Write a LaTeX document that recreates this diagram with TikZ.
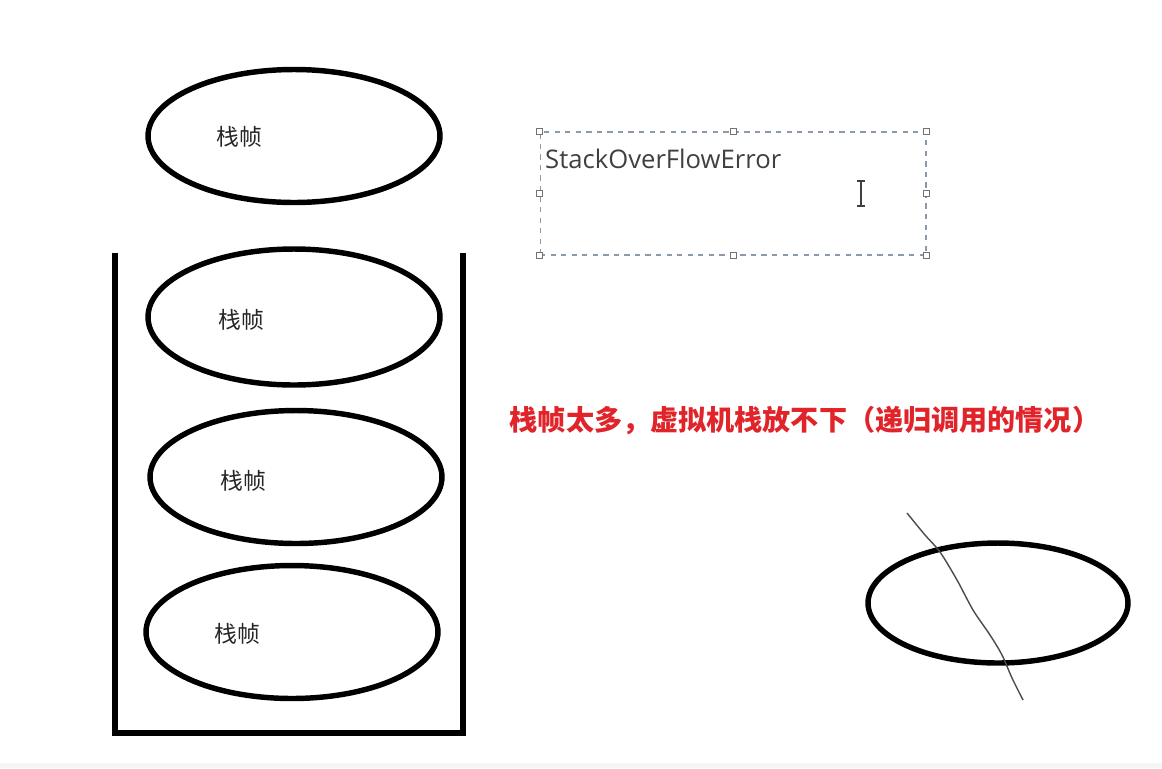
\documentclass[tikz,border=0pt]{standalone}
\usepackage{fontspec}
\usetikzlibrary{shapes.geometric}
\newfontfamily\cjk{Noto Sans CJK SC}
\newfontfamily\uifont{Open Sans}
\definecolor{errred}{HTML}{E0242A}
\definecolor{boxline}{HTML}{8A9AAA}

\begin{document}
\begin{tikzpicture}[x=0.02cm, y=-0.02cm,
    frame/.style={ellipse, draw=black, line width=3.1pt, minimum width=5.84cm, minimum height=2.66cm, inner sep=0pt},
    framelabel/.style={font=\cjk\fontsize{13}{15}\selectfont, text=black!85},
    handle/.style={rectangle, draw=black!55, fill=white, line width=0.5pt, minimum size=3.4pt, inner sep=0pt}]
\useasboundingbox (0,0) rectangle (1162,768);
\fill[black!4] (0,763) rectangle (1162,768);

% stack container
\draw[line width=3.4pt, line cap=rect] (115,256) -- (115,733) -- (463,733) -- (463,256);

% stack frames
\node (frame0)[frame] at (294,136) {};
\node (frame1)[frame, minimum height=2.72cm] at (294,317) {};
\node (frame2)[frame] at (296,477) {};
\node (frame3)[frame] at (292,632) {};

\node (label0)[framelabel] at (239,137) {栈帧};
\node (label1)[framelabel] at (241,320) {栈帧};
\node (label2)[framelabel] at (243,481) {栈帧};
\node (label3)[framelabel] at (237,634) {栈帧};

% text box
\node (errbox)[rectangle, draw=boxline, dashed, line width=0.6pt, minimum width=7.72cm, minimum height=2.46cm] at (733,193.5) {};
\node (errtext)[anchor=west, font=\uifont\fontsize{14.6}{17}\selectfont, text=black!75] at (539,159) {StackOverFlowError};
\foreach \a in {north west, north, north east, east, south east, south, south west, west}
    \node[handle] at (errbox.\a) {};
\draw[line width=0.9pt, black!75] (861,182) -- (861,205)
    (857,181) -- (865,181) (857,206) -- (865,206);

% note
\node (note)[font=\cjk\bfseries\fontsize{16}{18}\selectfont, text=errred] at (805,420) {栈帧太多，虚拟机栈放不下（递归调用的情况）};

% crossed frame
\node (lost)[frame, minimum width=5.2cm, minimum height=2.4cm] at (998,603) {};
\draw[black!70, line width=0.8pt] plot[smooth] coordinates {(907,513) (925,535) (940,552) (957,580) (973,610) (990,635) (1002,655) (1012,678) (1023,700)};
\end{tikzpicture}
\end{document}
